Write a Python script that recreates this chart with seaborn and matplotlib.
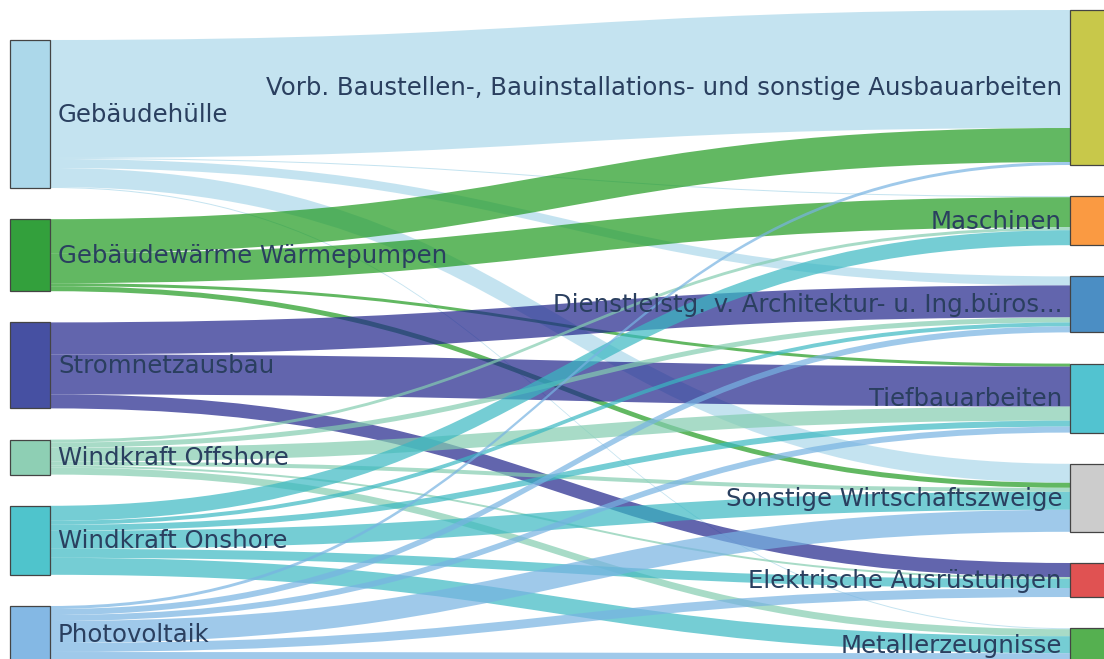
import matplotlib
matplotlib.use("Agg")
import matplotlib.pyplot as plt
from matplotlib.path import Path
from matplotlib.patches import PathPatch, Rectangle
import seaborn as sns

# --------------------------------------------------------------
# Data
# --------------------------------------------------------------
sources = [
    "Gebäudehülle",
    "Gebäudewärme Wärmepumpen",
    "Stromnetzausbau",
    "Windkraft Offshore",
    "Windkraft Onshore",
    "Photovoltaik",
]
targets = [
    "Vorb. Baustellen-, Bauinstallations- und sonstige Ausbauarbeiten",
    "Maschinen",
    "Dienstleistg. v. Architektur- u. Ing.büros...",
    "Tiefbauarbeiten",
    "Sonstige Wirtschaftszweige",
    "Elektrische Ausrüstungen",
    "Metallerzeugnisse",
]
source_colors = ["#acd8ea", "#33a03c", "#4650a2", "#8ecfb4", "#4fc4cc", "#84b8e4"]
link_colors = ["#acd8ea", "#209a20", "#20248b", "#83cdb0", "#3ab8c2", "#77b3e2"]
target_colors = ["#c8c84a", "#fa9a42", "#4b8ec4", "#52c3d0", "#cccccc", "#e05252", "#55b050"]

link_source = [0, 0, 0, 0, 0,
               1, 1, 1, 1,
               2, 2, 2,
               3, 3, 3, 3, 3, 3,
               4, 4, 4, 4, 4, 4,
               5, 5, 5, 5, 5, 5]
link_target = [0, 1, 2, 4, 6,
               0, 1, 3, 4,
               2, 3, 5,
               1, 2, 3, 4, 5, 6,
               1, 2, 3, 4, 5, 6,
               0, 2, 3, 4, 5, 6]
link_value = [118, 1, 9, 19, 1,
              34, 30, 3, 5,
              32, 40, 14,
              3, 5, 14, 4, 2, 7,
              15, 4, 6, 18, 9, 17,
              3, 6, 6, 22, 9, 9]

# --------------------------------------------------------------
# Layout
# --------------------------------------------------------------
W, H = 1104, 659
node_pad = 31.2
node_w = 40
left_x, right_x = 10, 1070
left_top, right_top = 40, 10

sns.set_theme(style="white")
fig = plt.figure(figsize=(W / 100, H / 100), dpi=100)
ax = fig.add_axes([0, 0, 1, 1])
ax.set_xlim(0, W)
ax.set_ylim(H, 0)
ax.axis("off")

src_tot = [sum(v for s, v in zip(link_source, link_value) if s == i) for i in range(len(sources))]
tgt_tot = [sum(v for t, v in zip(link_target, link_value) if t == j) for j in range(len(targets))]

src_y, y = [], left_top
for tot in src_tot:
    src_y.append(y)
    y += tot + node_pad
tgt_y, y = [], right_top
for tot in tgt_tot:
    tgt_y.append(y)
    y += tot + node_pad

# link offsets: at source ordered by target, at target ordered by source
src_off = list(src_y)
tgt_off = list(tgt_y)
link_pos = {}
for k in sorted(range(len(link_value)), key=lambda k: (link_source[k], link_target[k])):
    link_pos[k] = [src_off[link_source[k]], None]
    src_off[link_source[k]] += link_value[k]
for k in sorted(range(len(link_value)), key=lambda k: (link_target[k], link_source[k])):
    link_pos[k][1] = tgt_off[link_target[k]]
    tgt_off[link_target[k]] += link_value[k]

x0 = left_x + node_w
x1 = right_x
xm = (x0 + x1) / 2
for k in range(len(link_value)):
    y0, y1 = link_pos[k]
    w = link_value[k]
    verts = [(x0, y0), (xm, y0), (xm, y1), (x1, y1),
             (x1, y1 + w), (xm, y1 + w), (xm, y0 + w), (x0, y0 + w), (x0, y0)]
    codes = [Path.MOVETO, Path.CURVE4, Path.CURVE4, Path.CURVE4,
             Path.LINETO, Path.CURVE4, Path.CURVE4, Path.CURVE4, Path.CLOSEPOLY]
    ax.add_patch(PathPatch(Path(verts, codes), facecolor=link_colors[link_source[k]],
                           edgecolor="none", alpha=0.7, zorder=1))

txt = dict(color="#2a3f5f", fontsize=17.6, family="DejaVu Sans", va="center", zorder=3)
for i, name in enumerate(sources):
    ax.add_patch(Rectangle((left_x, src_y[i]), node_w, src_tot[i], facecolor=source_colors[i],
                           edgecolor="#444444", linewidth=0.9, zorder=2))
    ax.text(left_x + node_w + 8, src_y[i] + src_tot[i] / 2 + 1, name, ha="left", **txt)
for j, name in enumerate(targets):
    ax.add_patch(Rectangle((right_x, tgt_y[j]), node_w, tgt_tot[j], facecolor=target_colors[j],
                           edgecolor="#444444", linewidth=0.9, zorder=2))
    ax.text(right_x - 8, tgt_y[j] + tgt_tot[j] / 2 + 1, name, ha="right", **txt)

plt.savefig("out.png", dpi=100)
